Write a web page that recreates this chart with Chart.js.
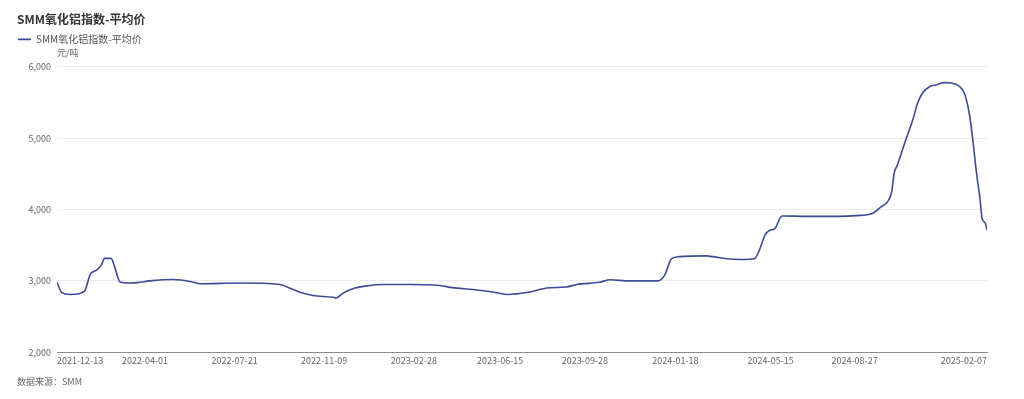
<!DOCTYPE html>
<html>
<head>
<meta charset="utf-8">
<script src="https://cdn.jsdelivr.net/npm/chart.js@4"></script>
<style>
  html, body { margin: 0; padding: 0; background: #fff; }
  #box { width: 1024px; height: 399px; position: relative; }
</style>
</head>
<body>
<div id="box"><canvas id="aluminaChart"></canvas></div>
<script>
const titleText = "SMM氧化铝指数-平均价";
const seriesName = "SMM氧化铝指数-平均价";
const unitText = "元/吨";
const sourceText = "数据来源：SMM";

const dates = [
  "2021-12-13", "2021-12-19", "2021-12-29", "2022-01-08", "2022-01-13", "2022-01-17",
  "2022-01-23", "2022-01-27", "2022-01-31", "2022-02-06", "2022-02-10", "2022-02-18",
  "2022-02-23", "2022-03-01", "2022-03-13", "2022-03-23", "2022-04-07", "2022-05-06",
  "2022-05-30", "2022-06-08", "2022-07-28", "2022-09-15", "2022-09-24", "2022-10-10",
  "2022-10-26", "2022-11-20", "2022-11-24", "2022-12-02", "2022-12-17", "2023-01-01",
  "2023-01-21", "2023-02-23", "2023-04-01", "2023-04-17", "2023-05-12", "2023-06-06",
  "2023-06-23", "2023-07-22", "2023-08-12", "2023-09-05", "2023-09-18", "2023-10-16",
  "2023-10-29", "2023-11-22", "2023-12-27", "2024-01-05", "2024-01-13", "2024-01-23",
  "2024-02-26", "2024-03-04", "2024-03-22", "2024-04-07", "2024-04-25", "2024-05-01",
  "2024-05-08", "2024-05-14", "2024-05-20", "2024-05-29", "2024-06-29", "2024-08-08",
  "2024-08-29", "2024-09-18", "2024-09-29", "2024-10-07", "2024-10-12", "2024-10-15",
  "2024-10-19", "2024-10-28", "2024-11-07", "2024-11-13", "2024-11-19", "2024-11-28",
  "2024-12-07", "2024-12-16", "2024-12-25", "2025-01-04", "2025-01-10", "2025-01-16",
  "2025-01-20", "2025-01-25", "2025-01-29", "2025-02-01", "2025-02-05", "2025-02-07"
];
const prices = [
  2980, 2835, 2810, 2815, 2835, 2875,
  3085, 3130, 3150, 3225, 3315, 3315,
  3175, 2985, 2970, 2975, 3000, 3020,
  2985, 2960, 2970, 2950, 2915, 2840,
  2795, 2770, 2760, 2825, 2900, 2930,
  2950, 2950, 2935, 2905, 2880, 2845,
  2810, 2845, 2900, 2915, 2950, 2980,
  3015, 3000, 3000, 3085, 3310, 3340,
  3350, 3340, 3310, 3300, 3310, 3430,
  3640, 3710, 3730, 3910, 3905, 3905,
  3915, 3945, 4040, 4110, 4250, 4510,
  4625, 4930, 5255, 5490, 5630, 5725,
  5750, 5780, 5775, 5725, 5630, 5350,
  5020, 4510, 4180, 3875, 3805, 3710
];
const xTickLabels = [
  "2021-12-13", "2022-04-01", "2022-07-21", "2022-11-09", "2023-02-28", "2023-06-15",
  "2023-09-28", "2024-01-18", "2024-05-15", "2024-08-27", "2025-02-07"
];
const yTicks = [2000, 3000, 4000, 5000, 6000];

const fontFamily = '"Noto Sans CJK SC", "Noto Sans", sans-serif';
const lineColor = "#3c4b96";

const toMs = (d) => Date.parse(d);
const points = dates.map((d, i) => ({ x: toMs(d), y: prices[i] }));

// footer text under the x axis
const sourceNote = {
  id: "sourceNote",
  afterDraw(chart) {
    const ctx = chart.ctx;
    ctx.save();
    ctx.font = "9px " + fontFamily;
    ctx.fillStyle = "#666";
    ctx.textBaseline = "middle";
    ctx.fillText(sourceText, 17, 382);
    ctx.restore();
  },
};

const canvas = document.getElementById("aluminaChart");
const context = canvas.getContext("2d");

new Chart(context, {
  type: "line",
  data: {
    datasets: [
      {
        label: seriesName,
        data: points,
        borderColor: lineColor,
        backgroundColor: lineColor,
        borderWidth: 1.6,
        pointRadius: 0,
        cubicInterpolationMode: "monotone",
        fill: false,
      },
    ],
  },
  options: {
    responsive: true,
    maintainAspectRatio: false,
    animation: false,
    layout: { padding: { left: 17, right: 37, top: 0, bottom: 30 } },
    plugins: {
      title: {
        display: true,
        text: titleText,
        align: "start",
        color: "#333",
        font: { family: fontFamily, size: 12, weight: "bold" },
        padding: { top: 12, bottom: 7 },
      },
      legend: {
        display: true,
        align: "start",
        labels: {
          usePointStyle: true,
          pointStyle: "line",
          pointStyleWidth: 13,
          padding: 1,
          color: "#555",
          font: { family: fontFamily, size: 10 },
        },
      },
      subtitle: {
        display: true,
        text: unitText,
        align: "start",
        fullSize: false,
        weight: 500,
        color: "#666",
        font: { family: fontFamily, size: 9 },
        padding: { top: -6.9, bottom: 8.6 },
      },
      tooltip: { enabled: false },
    },
    scales: {
      x: {
        type: "linear",
        min: toMs(dates[0]),
        max: toMs(dates[dates.length - 1]),
        grid: { display: false, drawTicks: false },
        border: { display: true, color: "#8c8c8c", width: 1 },
        afterBuildTicks: (scale) => {
          scale.ticks = xTickLabels.map((d) => ({ value: toMs(d) }));
        },
        ticks: {
          autoSkip: false,
          maxRotation: 0,
          align: "inner",
          padding: 3,
          color: "#666",
          font: { family: fontFamily, size: 9 },
          callback: (value) => new Date(value).toISOString().slice(0, 10),
        },
      },
      y: {
        min: yTicks[0],
        max: yTicks[yTicks.length - 1],
        afterFit: (scale) => {
          scale.width = 40;
        },
        afterBuildTicks: (scale) => {
          scale.ticks = yTicks.map((v) => ({ value: v }));
        },
        grid: { color: "#ececec", drawTicks: false },
        border: { display: false },
        ticks: {
          padding: 6,
          color: "#666",
          font: { family: fontFamily, size: 9 },
          callback: (value) => value.toLocaleString("en-US"),
        },
      },
    },
  },
  plugins: [sourceNote],
});
</script>
</body>
</html>
